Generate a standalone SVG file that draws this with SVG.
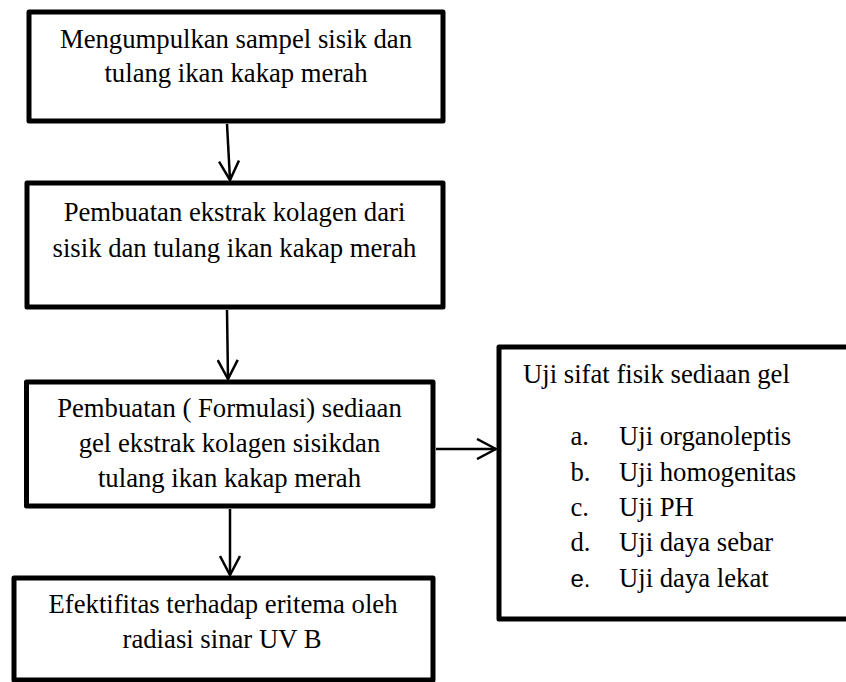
<svg xmlns="http://www.w3.org/2000/svg" width="846" height="682" viewBox="0 0 846 682">
<defs>
<style>
.box{fill:#fff;stroke:#000;stroke-width:5;stroke-linejoin:round}
.t{font-family:"Liberation Serif","Times New Roman",serif;font-size:26.7px;fill:#000}
.c{text-anchor:middle}
.conn{stroke:#000;stroke-width:2.5;fill:none}
</style>
<marker id="ah" viewBox="0 0 22 22" refX="20" refY="11" markerWidth="22" markerHeight="22" markerUnits="userSpaceOnUse" orient="auto">
<path d="M1,1 L20,11 L1,21" fill="none" stroke="#000" stroke-width="2.5"/>
</marker>
</defs>
<rect width="846" height="682" fill="#fff"/>
<g id="connectors">
<line class="conn" x1="227" y1="124" x2="230" y2="180" marker-end="url(#ah)"/>
<line class="conn" x1="227" y1="310" x2="228" y2="379" marker-end="url(#ah)"/>
<line class="conn" x1="230" y1="509" x2="230" y2="575" marker-end="url(#ah)"/>
<line class="conn" x1="436" y1="449" x2="496" y2="449" marker-end="url(#ah)"/>
</g>
<g id="node1">
<rect class="box" x="29" y="12" width="414" height="109"/>
<text class="t c" x="236" y="48">Mengumpulkan sampel sisik dan</text>
<text class="t c" x="236" y="82">tulang ikan kakap merah</text>
</g>
<g id="node2">
<rect class="box" x="27" y="183" width="416" height="124"/>
<text class="t c" x="234.5" y="221">Pembuatan ekstrak kolagen dari</text>
<text class="t c" x="234.5" y="256.5">sisik dan tulang ikan kakap merah</text>
</g>
<g id="node3">
<rect class="box" x="26.5" y="382" width="406.5" height="124"/>
<text class="t c" x="229.5" y="417">Pembuatan ( Formulasi) sediaan</text>
<text class="t c" x="229.5" y="451.5">gel ekstrak kolagen sisikdan</text>
<text class="t c" x="229.5" y="486.5">tulang ikan kakap merah</text>
</g>
<g id="node4">
<rect class="box" x="14" y="578" width="419" height="102"/>
<text class="t c" x="223" y="613">Efektifitas terhadap eritema oleh</text>
<text class="t c" x="222" y="648">radiasi sinar UV B</text>
</g>
<g id="node5">
<rect class="box" x="499" y="347" width="360" height="272"/>
<text class="t" x="523" y="383">Uji sifat fisik sediaan gel</text>
<text class="t" x="570.5" y="445">a.</text>
<text class="t" x="619" y="445">Uji organoleptis</text>
<text class="t" x="570.5" y="480.5">b.</text>
<text class="t" x="619" y="480.5">Uji homogenitas</text>
<text class="t" x="570.5" y="515.5">c.</text>
<text class="t" x="619" y="515.5">Uji PH</text>
<text class="t" x="570.5" y="551">d.</text>
<text class="t" x="619" y="551">Uji daya sebar</text>
<text x="570.5" y="586.5" style="font-family:'Liberation Sans',Arial,sans-serif;font-size:24px;fill:#000">e.</text>
<text class="t" x="619" y="586.5">Uji daya lekat</text>
</g>
</svg>
